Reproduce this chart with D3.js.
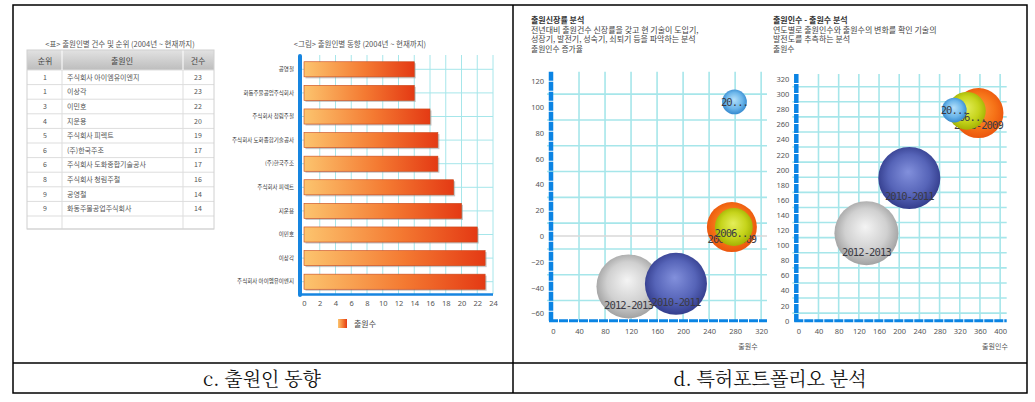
<!DOCTYPE html>
<html><head><meta charset="utf-8">
<script src="https://cdn.jsdelivr.net/npm/d3@7"></script>
<style>
body{margin:0;background:#fff}
svg{display:block}
text{font-family:"Noto Sans CJK KR","Noto Sans",sans-serif}
</style>
</head><body>
<svg id="c" width="1035" height="402"></svg>
<script>
// ---------- DATA ----------
const tableTitle = "<표> 출원인별 건수 및 순위 (2004년 ~ 현재까지)";
const tableHeaders = ["순위","출원인","건수"];
const ranks = ["1","1","3","4","5","6","6","8","9","9"];
const applicants = ["주식회사 아이엠유이엔지","이상각","이민호","지운용","주식회사 피렉트","(주)한국주조","주식회사 도화종합기술공사","주식회사 청림주철","공영철","화동주물공업주식회사"];
const counts = [23,23,22,20,19,17,17,16,14,14];

const barTitle = "<그림> 출원인별 동향 (2004년 ~ 현재까지)";
const barNames = ["공영철","화동주물공업주식회사","주식회사 청림주철","주식회사 도화종합기술공사","(주)한국주조","주식회사 피렉트","지운용","이민호","이상각","주식회사 아이엠유이엔지"];
const barValues = [14,14,16,17,17,19,20,22,23,23];
const barTicks = [0,2,4,6,8,10,12,14,16,18,20,22,24];
const barLegend = "출원수";

const periods = ["2012-2013","2010-2011","2008-2009","2006-2007","2004-2005"];
const bubbleSize = [100,94,61,35,15];
const filingCount = [116,189,275,278,279];      // 출원수
const applicantGrowth = [-39,-37,7,7,104];      // 출원인수 증가율
const applicantCount = [135,220,357,334,309];   // 출원인수

const growthYTicks = [-60,-40,-20,0,20,40,60,80,100,120];
const growthXTicks = [0,40,80,120,160,200,240,280,320];
const countYTicks = [0,20,40,60,80,100,120,140,160,180,200,220,240,260,280,300,320];
const countXTicks = [0,40,80,120,160,200,240,280,320,360,400];

const captions = ["c. 출원인 동향","d. 특허포트폴리오 분석"];

// ---------- DRAW ----------
const svg = d3.select("#c");
const defs = svg.append("defs");

const frame = svg.append("g").attr("stroke","#000").attr("stroke-width",1.5).attr("fill","none");
frame.append("rect").attr("x",13).attr("y",5).attr("width",1014).attr("height",388);
frame.append("line").attr("x1",513).attr("x2",513).attr("y1",5).attr("y2",393);
frame.append("line").attr("x1",13).attr("x2",1027).attr("y1",363).attr("y2",363);

svg.selectAll("text.cap").data(captions).join("text")
  .attr("x",(d,i)=>i?770:262).attr("y",386).attr("text-anchor","middle")
  .attr("font-size",19).attr("fill","#111")
  .style("font-family",'"Noto Serif CJK KR","Noto Sans CJK KR",serif').text(d=>d);

// ---------- TABLE ----------
const tg = svg.append("g");
tg.append("text").attr("x",120).attr("y",47).attr("text-anchor","middle")
  .attr("font-size",7.5).attr("fill","#555").text(tableTitle);
const hg = defs.append("linearGradient").attr("id","hdr").attr("x1",0).attr("y1",0).attr("x2",0).attr("y2",1);
hg.append("stop").attr("offset","0%").attr("stop-color","#e2e2e2");
hg.append("stop").attr("offset","100%").attr("stop-color","#bdbdbd");
const colC = [45,67,198];
tg.append("rect").attr("x",27).attr("y",50).attr("width",187).attr("height",20).attr("fill","url(#hdr)");
tableHeaders.forEach((h,i)=>{
  tg.append("text").attr("x",i===1?122:colC[i]).attr("y",63.5).attr("text-anchor","middle")
    .attr("font-size",8).attr("fill","#444").text(h);
});
const rowY = d3.scaleLinear().domain([0,10]).range([70,216]);
const nRows = ranks.length;
for(let i=0;i<=nRows;i++){
  tg.append("line").attr("x1",27).attr("x2",214).attr("y1",rowY(i)).attr("y2",rowY(i)).attr("stroke","#ddd");
}
tg.append("line").attr("x1",27).attr("x2",214).attr("y1",229).attr("y2",229).attr("stroke","#ddd");
[62,183].forEach(x=>{
  tg.append("line").attr("x1",x).attr("x2",x).attr("y1",50).attr("y2",70).attr("stroke","#fff");
  tg.append("line").attr("x1",x).attr("x2",x).attr("y1",70).attr("y2",229).attr("stroke","#ddd");
});
tg.append("rect").attr("x",27).attr("y",50).attr("width",187).attr("height",179).attr("fill","none").attr("stroke","#d0d0d0");
ranks.forEach((r,i)=>{
  const y = (rowY(i)+rowY(i+1))/2+2.5;
  tg.append("text").attr("x",45).attr("y",y).attr("text-anchor","middle").attr("font-size",7).attr("fill","#555").text(r);
  tg.append("text").attr("x",67).attr("y",y).attr("font-size",7).attr("fill","#555").text(applicants[i]);
  tg.append("text").attr("x",198).attr("y",y).attr("text-anchor","middle").attr("font-size",7).attr("fill","#555").text(counts[i]);
});

// ---------- BAR CHART ----------
const bg = svg.append("g");
bg.append("text").attr("x",360).attr("y",47).attr("text-anchor","middle").attr("font-size",7.5).attr("fill","#555").text(barTitle);
const bx = d3.scaleLinear().domain([0,24]).range([304,493]);
const by = d3.scaleBand().domain(barNames).range([57.5,293.5]).paddingInner(0.36).paddingOuter(0.18);
const gridC = "#a6e6ea";
bg.selectAll("line.vg").data(barTicks.slice(1)).join("line")
  .attr("x1",d=>bx(d)).attr("x2",d=>bx(d)).attr("y1",55).attr("y2",294).attr("stroke",gridC).attr("stroke-width",1);
bg.selectAll("line.hg").data(barNames).join("line")
  .attr("x1",300).attr("x2",493).attr("y1",d=>by(d)+by.bandwidth()/2).attr("y2",d=>by(d)+by.bandwidth()/2)
  .attr("stroke",gridC).attr("stroke-width",1);
const barG = defs.append("linearGradient").attr("id","barg").attr("x1",0).attr("y1",0).attr("x2",1).attr("y2",0);
barG.append("stop").attr("offset","0%").attr("stop-color","#fcc46e");
barG.append("stop").attr("offset","55%").attr("stop-color","#f47a32");
barG.append("stop").attr("offset","100%").attr("stop-color","#e43a14");
bg.selectAll("rect.sh").data(barValues).join("rect")
  .attr("x",bx(0)+1.5).attr("y",(d,i)=>by(barNames[i])+1.5)
  .attr("width",d=>bx(d)-bx(0)).attr("height",by.bandwidth()).attr("fill","#999").attr("opacity",0.55);
bg.selectAll("rect.bar").data(barValues).join("rect")
  .attr("x",bx(0)).attr("y",(d,i)=>by(barNames[i]))
  .attr("width",d=>bx(d)-bx(0)).attr("height",by.bandwidth())
  .attr("fill","url(#barg)").attr("stroke","#c8461a").attr("stroke-width",0.6);
const yAx = bg.append("g").attr("transform","translate(300,0)").call(d3.axisLeft(by).tickSize(0).tickPadding(6));
yAx.select(".domain").remove();
yAx.selectAll("text").attr("font-size",5.5).attr("fill","#333").style("font-family",'"Noto Sans CJK KR",sans-serif');
bg.append("line").attr("x1",300).attr("x2",300).attr("y1",56).attr("y2",295).attr("stroke","#1685e0").attr("stroke-width",4).attr("stroke-linecap","round");
bg.append("line").attr("x1",300).attr("x2",493).attr("y1",294.5).attr("y2",294.5).attr("stroke","#1685e0").attr("stroke-width",2.5);
const xAx = bg.append("g").attr("transform","translate(0,296)").call(d3.axisBottom(bx).tickValues(barTicks).tickSize(0).tickPadding(5));
xAx.select(".domain").remove();
xAx.selectAll("text").attr("font-size",7.5).attr("fill","#555").style("font-family",'"Noto Sans",sans-serif');
bg.append("rect").attr("x",338).attr("y",319).attr("width",9).attr("height",9).attr("fill","url(#barg)");
bg.append("text").attr("x",354).attr("y",327).attr("font-size",8).attr("fill","#444").text(barLegend);

// ---------- BUBBLE CHARTS ----------
const bubbleColors = [
  ["#f4f4f4","#d0d0d0","#9c9c9c"],
  ["#8290dc","#5664b8","#2f3887"],
  ["#ff9a40","#f67418","#ea520c"],
  ["#e4ee5a","#c6d41c","#9fae00"],
  ["#b4e0fa","#6cb6ea","#2e84cc"]
];
bubbleColors.forEach((c,i)=>{
  const g = defs.append("radialGradient").attr("id","bub"+i).attr("cx","50%").attr("cy","48%").attr("r","55%").attr("fx","48%").attr("fy","40%");
  g.append("stop").attr("offset","0%").attr("stop-color",c[0]);
  g.append("stop").attr("offset","60%").attr("stop-color",c[1]);
  g.append("stop").attr("offset","100%").attr("stop-color",c[2]);
});
const rScale = d3.scaleSqrt().domain([0,100]).range([0,32]);

function labelFor(t,r){
  if(r<15) return t.slice(0,2)+"...";
  if(r<21) return t.slice(0,4)+"...";
  return t;
}

function bubbleChart(o){
  const g = svg.append("g");
  g.append("text").attr("x",o.left).attr("y",23).attr("font-size",8).attr("font-weight","bold").attr("fill","#333").text(o.title);
  o.desc.forEach((d,i)=>g.append("text").attr("x",o.left).attr("y",32.5+i*9.3).attr("font-size",8).attr("fill","#444").text(d));
  g.append("text").attr("x",o.left).attr("y",51.8).attr("font-size",7.8).attr("fill","#444").text(o.yTitle);
  const x = d3.scaleLinear().domain(o.xDom).range(o.xRange);
  const y = d3.scaleLinear().domain(o.yDom).range(o.yRange);
  g.selectAll("line.vg").data(o.xTicks.slice(1)).join("line")
    .attr("x1",d=>x(d)).attr("x2",d=>x(d)).attr("y1",o.yRange[1]).attr("y2",o.yRange[0])
    .attr("stroke",gridC).attr("stroke-width",1.6);
  g.selectAll("line.hg").data(o.hGrid).join("line")
    .attr("x1",o.xRange[0]-6).attr("x2",o.xRange[1]).attr("y1",d=>y(d)).attr("y2",d=>y(d))
    .attr("stroke",gridC).attr("stroke-width",1.6);
  if(o.zeroLine){
    g.append("line").attr("x1",o.xRange[0]).attr("x2",o.xRange[1]).attr("y1",y(0)).attr("y2",y(0)).attr("stroke","#d8d8d8").attr("stroke-width",1.4);
  }
  const order = d3.range(periods.length).sort((a,b)=>bubbleSize[b]-bubbleSize[a]);
  order.forEach(i=>{
    const r = rScale(bubbleSize[i]);
    const cx = x(o.xs[i]), cy = y(o.ys[i]);
    g.append("circle").attr("cx",cx).attr("cy",cy).attr("r",r).attr("fill","url(#bub"+i+")");
    g.append("text").attr("x",cx).attr("y",cy+Math.max(0,r-13)+4).attr("text-anchor","middle")
      .attr("font-size",10.5).attr("fill","#3a3a44").style("font-family",'"DejaVu Sans Mono","Liberation Mono",monospace')
      .attr("letter-spacing",-0.9).text(labelFor(periods[i],r));
  });
  const ya = g.append("g").attr("transform",`translate(${o.xRange[0]-9},0)`)
    .call(d3.axisLeft(y).tickValues(o.yTicks).tickSize(0).tickPadding(0));
  ya.select(".domain").remove();
  ya.selectAll("text").attr("font-size",7.5).attr("fill","#555").style("font-family",'"Noto Sans",sans-serif');
  const xa = g.append("g").attr("transform",`translate(0,${o.yRange[0]+5})`)
    .call(d3.axisBottom(x).tickValues(o.xTicks).tickSize(0).tickPadding(3));
  xa.select(".domain").remove();
  xa.selectAll("text").attr("font-size",7.5).attr("fill","#555").style("font-family",'"Noto Sans",sans-serif');
  g.append("line").attr("x1",o.xRange[0]-2).attr("x2",o.xRange[0]-2).attr("y1",o.yRange[1]).attr("y2",o.yRange[0]+1)
    .attr("stroke","#0a84e4").attr("stroke-width",4.5).attr("stroke-dasharray","9,1");
  g.append("line").attr("x1",o.xRange[0]-4).attr("x2",o.xRange[1]).attr("y1",o.yRange[0]).attr("y2",o.yRange[0])
    .attr("stroke","#0a84e4").attr("stroke-width",3).attr("stroke-dasharray","9,1");
  g.append("text").attr("x",o.xTitleX).attr("y",349).attr("text-anchor","middle").attr("font-size",7).attr("fill","#555").text(o.xTitle);
}

bubbleChart({
  left:531, title:"출원신장률 분석",
  desc:["전년대비 출원건수 신장률을 갖고 현 기술이 도입기,","성장기, 발전기, 성숙기, 쇠퇴기 등을 파악하는 분석"],
  yTitle:"출원인수 증가율", xTitle:"출원수", xTitleX:748,
  xDom:[0,329], xRange:[553,767], yDom:[-65.6,127.4], yRange:[320.7,71.7],
  xTicks:growthXTicks, yTicks:growthYTicks,
  hGrid:[-50,-30,-10,10,30,50,70,90,110], zeroLine:true,
  xs:filingCount, ys:applicantGrowth
});
bubbleChart({
  left:773, title:"출원인수 - 출원수 분석",
  desc:["연도별로 출원인수와 출원수의 변화를 확인 기술의","발전도를 추측하는 분석"],
  yTitle:"출원수", xTitle:"출원인수", xTitleX:995,
  xDom:[0,413], xRange:[798.3,1006.7], yDom:[0,326.8], yRange:[320.7,74],
  xTicks:countXTicks, yTicks:countYTicks,
  hGrid:[10,30,50,70,90,110,130,150,170,190,210,230,250,270,290,310], zeroLine:false,
  xs:applicantCount, ys:filingCount
});
</script>
</body></html>
